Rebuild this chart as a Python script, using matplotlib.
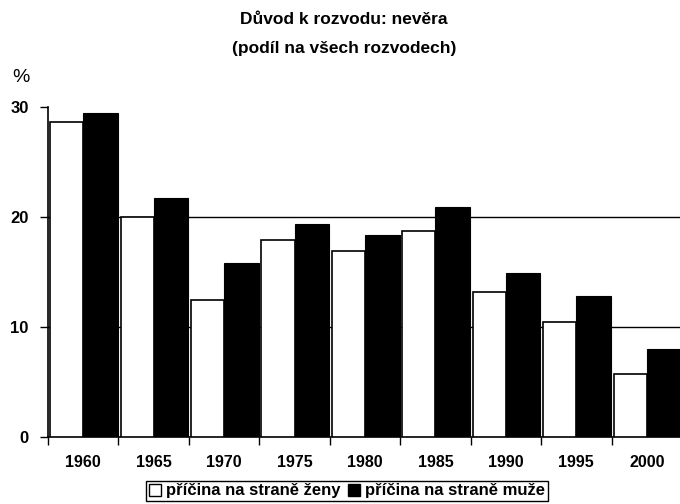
import matplotlib
matplotlib.use("Agg")
import matplotlib.pyplot as plt
import numpy as np
from matplotlib.patches import Patch

plt.rcParams['font.family'] = ['Liberation Sans', 'DejaVu Sans']

years = ["1960", "1965", "1970", "1975", "1980", "1985", "1990", "1995", "2000"]
zeny = [28.6, 20.0, 12.45, 17.9, 16.9, 18.7, 13.2, 10.5, 5.7]
muze = [29.5, 21.7, 15.8, 19.4, 18.4, 20.9, 14.95, 12.85, 8.0]
yticks = [0, 10, 20, 30]
title1 = "Důvod k rozvodu: nevěra"
title2 = "(podíl na všech rozvodech)"
labels = ["příčina na straně ženy", "příčina na straně muže"]

fig = plt.figure(figsize=(6.8, 5.04), dpi=100)
ax = fig.add_axes([48/680, (504-437)/504, (682-48)/680, (437-107)/504])

x = np.arange(len(years))
ax.bar(x + 0.03, zeny, width=0.47, align='edge', color='white', edgecolor='black', linewidth=1.2, zorder=3)
ax.bar(x + 0.5, muze, width=0.49, align='edge', color='black', edgecolor='black', linewidth=0.8, zorder=3)

for g in [10, 20]:
    ax.axhline(g, color='black', linewidth=1.0, zorder=1)

ax.set_xlim(0, len(years))
ax.set_ylim(0, 30)
ax.set_yticks(yticks)
ax.set_yticklabels([str(v) for v in yticks], fontweight='bold', fontsize=12)
ax.set_xticks(np.arange(len(years) + 1))
ax.set_xticklabels([])
ax.set_xticks(x + 0.5, minor=True)
ax.set_xticklabels(years, minor=True, fontweight='bold', fontsize=11.5)
ax.tick_params(axis='x', which='major', direction='out', length=6, width=1)
ax.tick_params(axis='x', which='minor', length=0, pad=13)
ax.tick_params(axis='y', direction='out', length=6, width=1, pad=8)

for s in ['top', 'right']:
    ax.spines[s].set_visible(False)
ax.spines['left'].set_linewidth(1.2)
ax.spines['bottom'].set_linewidth(1.2)

fig.text(344/680, 1 - 20/504, title1, ha='center', va='center', fontweight='bold', fontsize=12.5)
fig.text(344/680, 1 - 48/504, title2, ha='center', va='center', fontweight='bold', fontsize=12.5)
fig.text(21/680, 1 - 77/504, "%", ha='center', va='center', fontsize=14)

handles = [Patch(facecolor='white', edgecolor='black', linewidth=1.0),
           Patch(facecolor='black', edgecolor='black')]
leg = fig.legend(handles, labels, loc='center', bbox_to_anchor=(347/680, 1 - 491/504), ncol=2,
                 frameon=True, fancybox=False, edgecolor='black', framealpha=1,
                 handlelength=0.75, handleheight=0.75, handletextpad=0.3, columnspacing=0.4,
                 borderpad=0.15, borderaxespad=0, prop={'weight': 'bold', 'size': 12})
leg.get_frame().set_linewidth(1.0)

fig.savefig("out.png", dpi=100)
